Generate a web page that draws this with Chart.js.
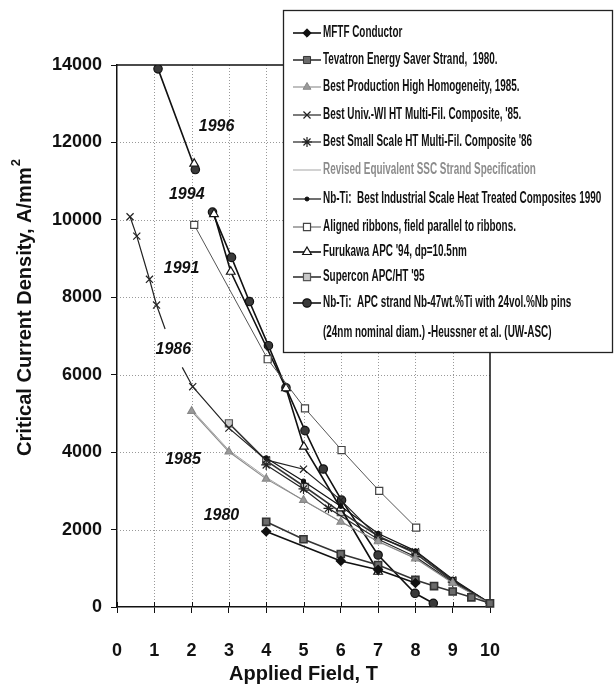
<!DOCTYPE html>
<html><head><meta charset="utf-8">
<script src="https://cdn.jsdelivr.net/npm/chart.js@4.4.1/dist/chart.umd.min.js"></script>
<style>html,body{margin:0;padding:0;background:#fff;}#wrap{width:616px;height:686px;position:relative;}</style>
</head><body><div id="wrap"><canvas id="c" width="616" height="686"></canvas></div>
<script>
// ---------- data ----------
const fieldTicks = [0,1,2,3,4,5,6,7,8,9,10];
const jcTicks = [0,2000,4000,6000,8000,10000,12000,14000];

const mftfField = [4, 6, 7, 8];
const mftfJc    = [1950, 1190, 960, 620];

const tevatronField = [4, 5, 6, 7, 8, 8.5, 9, 9.5, 10, 10.3];
const tevatronJc    = [2200, 1750, 1370, 1085, 700, 540, 400, 250, 95, 55];

const prod85Field = [2, 3, 4, 5, 6, 7, 8, 9, 10];
const prod85Jc    = [5060, 4010, 3310, 2760, 2200, 1690, 1250, 620, 90];

const univ85Field = [1.75, 2.03, 3, 4, 5, 6, 7, 8, 9, 10];
const univ85Jc    = [6190, 5690, 4620, 3800, 3560, 2760, 1800, 1430, 700, 100];

const small86Field = [4, 5, 5.67, 7, 8, 9, 10];
const small86Jc    = [3670, 3050, 2550, 1750, 1300, 640, 100];

const sscField = [2, 3, 4, 5, 6, 7, 8, 9, 10];
const sscJc    = [5100, 4050, 3350, 2750, 2200, 1700, 1260, 640, 100];

const ind90Field = [4, 5, 6, 7, 8, 9, 10];
const ind90Jc    = [3850, 3250, 2600, 1900, 1450, 720, 100];

const ribbonField = [2.07, 4.04, 5.04, 6.02, 7.03, 8.02];
const ribbonJc    = [9870, 6400, 5130, 4055, 3000, 2050];

const furukawaField = [2.07, 2.3, 2.6, 3.05, 4.53, 5.01, 6.0, 7.0];
const furukawaJc    = [11450, null, 10150, 8660, 5650, 4140, 2550, 910];

const superconField = [3, 4, 5.04, 6, 7, 8, 9, 10];
const superconJc    = [4745, 3780, 3100, 2450, 1834, 1385, 670, 100];

const apcField = [1.1, 2.1, 2.35, 2.56, 3.07, 3.55, 4.06, 4.53, 5.04, 5.53, 6.02, 7.0, 7.99, 8.48];
const apcJc    = [13900, 11300, null, 10200, 9030, 7890, 6750, 5665, 4555, 3565, 2760, 1343, 354, 95];

const lowFieldField = [0.35, 0.53, 0.87, 1.06, 1.29];
const lowFieldJc    = [10080, 9580, 8465, 7800, 7180];

const seriesNames = [
  'MFTF Conductor',
  'Tevatron Energy Saver Strand,  1980.',
  'Best Production High Homogeneity, 1985.',
  'Best Univ.-WI HT Multi-Fil. Composite, \'85.',
  'Best Small Scale HT Multi-Fil. Composite \'86',
  'Revised Equivalent SSC Strand Specification',
  'Nb-Ti:  Best Industrial Scale Heat Treated Composites 1990',
  'Aligned ribbons, field parallel to ribbons.',
  'Furukawa APC \'94, dp=10.5nm',
  'Supercon APC/HT \'95',
  'Nb-Ti:  APC strand Nb-47wt.%Ti with 24vol.%Nb pins'
];
const legendExtraLine = '(24nm nominal diam.) -Heussner et al. (UW-ASC)';

const yearLabels = ['1996','1994','1991','1986','1985','1980'];
const yearLabelField = [2.67, 1.87, 1.73, 1.51, 1.77, 2.8];
const yearLabelJc    = [12420, 10650, 8750, 6640, 3800, 2350];

const xTitle = 'Applied Field, T';
const yTitle = 'Critical Current Density, A/mm';

// ---------- build ----------
function pts(xs, ys){ return xs.map((x,i)=>({x:x, y:ys[i]})); }

const FONT = '"Liberation Sans", Arial, Helvetica, sans-serif';

const datasets = [
  {label: seriesNames[0], data: pts(mftfField,mftfJc), borderColor:'#111', borderWidth:1.6,
   pointStyle:'rectRot', pointRadius:4.2, pointBackgroundColor:'#111', pointBorderColor:'#111', legendRow:0},
  {label: seriesNames[1], data: pts(tevatronField,tevatronJc), borderColor:'#333', borderWidth:1.6,
   pointStyle:'rect', pointRadius:5, pointBackgroundColor:'#6b6b6b', pointBorderColor:'#333', clip:false, legendRow:1},
  {label: seriesNames[2], data: pts(prod85Field,prod85Jc), borderColor:'#8a8a8a', borderWidth:1.1,
   pointStyle:'triangle', pointRadius:4.5, pointBackgroundColor:'#9a9a9a', pointBorderColor:'#888', legendRow:2},
  {label: seriesNames[3], data: pts(univ85Field,univ85Jc), borderColor:'#222', borderWidth:1.2,
   pointStyle:'crossRot', pointRadius: univ85Field.map((v,i)=> i===0?0:5), pointBorderWidth:1.2, pointBorderColor:'#222', legendRow:3},
  {label: seriesNames[4], data: pts(small86Field,small86Jc), borderColor:'#222', borderWidth:1.2,
   pointStyle:'star', pointRadius:5, pointBorderWidth:1.2, pointBorderColor:'#222', legendRow:4},
  {label: seriesNames[5], data: pts(sscField,sscJc), borderColor:'#a5a5a5', borderWidth:1,
   pointRadius:0, legendRow:5, textColor:'#8c8c8c'},
  {label: seriesNames[6], data: pts(ind90Field,ind90Jc), borderColor:'#111', borderWidth:1.2,
   pointStyle:'circle', pointRadius:2, pointBackgroundColor:'#111', pointBorderColor:'#111', legendRow:6},
  {label: seriesNames[7], data: pts(ribbonField,ribbonJc), borderColor:'#555', borderWidth:1,
   pointStyle:'rect', pointRadius:5, pointBackgroundColor:'#fff', pointBorderColor:'#444', pointBorderWidth:1.2, legendRow:7},
  {label: seriesNames[8], data: pts(furukawaField,furukawaJc), borderColor:'#111', borderWidth:1.6,
   pointStyle:'triangle', pointRadius:5, pointBackgroundColor:'#fff', pointBorderColor:'#111', pointBorderWidth:1.2, legendRow:8},
  {label: seriesNames[9], data: pts(superconField,superconJc), borderColor:'#333', borderWidth:1.6,
   pointStyle:'rect', pointRadius:5, pointBackgroundColor:'#c8c8c8', pointBorderColor:'#555', pointBorderWidth:1.2, legendRow:9},
  {label: seriesNames[10], data: pts(apcField,apcJc), borderColor:'#111', borderWidth:1.6,
   pointStyle:'circle', pointRadius:4.2, pointBackgroundColor:'#3a3a3a', pointBorderColor:'#111', pointBorderWidth:1.2, legendRow:10},
  {label: '1991 low-field data', data: pts(lowFieldField,lowFieldJc), borderColor:'#222', borderWidth:1.2,
   pointStyle:'crossRot', pointRadius: lowFieldField.map((v,i)=> i===lowFieldField.length-1?0:5), pointBorderWidth:1.2, pointBorderColor:'#222'}
];
datasets.forEach(d=>{ d.fill=false; d.tension=0; d.showLine=true; d.spanGaps=false; });

const frame = {
  id:'frame',
  beforeDatasetsDraw(chart){
    const {ctx, chartArea:a} = chart;
    const xs = chart.scales.x, ys = chart.scales.y;
    ctx.save();
    // dotted grid
    ctx.strokeStyle='#999'; ctx.lineWidth=1; ctx.setLineDash([1,2]);
    fieldTicks.slice(1,-1).forEach(t=>{ const px=Math.round(xs.getPixelForValue(t))+0.5; ctx.beginPath(); ctx.moveTo(px,a.top); ctx.lineTo(px,a.bottom); ctx.stroke(); });
    jcTicks.slice(1,-1).forEach(t=>{ const py=Math.round(ys.getPixelForValue(t))+0.5; ctx.beginPath(); ctx.moveTo(a.left,py); ctx.lineTo(a.right,py); ctx.stroke(); });
    ctx.setLineDash([]);
    ctx.strokeStyle='#111'; ctx.lineWidth=1.5;
    ctx.beginPath(); ctx.moveTo(a.left, a.top); ctx.lineTo(a.right, a.top); ctx.lineTo(a.right, a.bottom); ctx.stroke();
    // inner half of the x tick marks
    ctx.lineWidth=1;
    fieldTicks.forEach(t=>{ const px=Math.round(xs.getPixelForValue(t))+0.5; ctx.beginPath(); ctx.moveTo(px,a.bottom); ctx.lineTo(px,a.bottom-5); ctx.stroke(); });
    ctx.restore();
  },
  afterDatasetsDraw(chart){
    const {ctx} = chart; const xs=chart.scales.x, ys=chart.scales.y;
    ctx.save();
    ctx.fillStyle='#111'; ctx.font='italic bold 16px '+FONT; ctx.textAlign='center'; ctx.textBaseline='middle';
    yearLabels.forEach((t,i)=> ctx.fillText(t, xs.getPixelForValue(yearLabelField[i]), ys.getPixelForValue(yearLabelJc[i])));
    ctx.restore();
  },
  afterDraw(chart){
    const ctx = chart.ctx;
    // y axis title with superscript
    ctx.save();
    ctx.translate(25, 308); ctx.rotate(-Math.PI/2);
    ctx.fillStyle='#111'; ctx.font='bold 20px '+FONT; ctx.textBaseline='middle';
    const w1 = ctx.measureText(yTitle).width;
    ctx.font='bold 13px '+FONT; const w2=ctx.measureText('2').width;
    const start=-(w1+w2)/2;
    ctx.font='bold 20px '+FONT; ctx.textAlign='left'; ctx.fillText(yTitle, start, 0);
    ctx.font='bold 13px '+FONT; ctx.fillText('2', start+w1+1, -9);
    ctx.restore();

    // legend box
    ctx.save();
    const bx=283, by=10, bw=329, bh=342;
    ctx.fillStyle='#fff'; ctx.fillRect(bx,by,bw,bh);
    ctx.strokeStyle='#222'; ctx.lineWidth=1.3; ctx.strokeRect(bx+0.5,by+0.5,bw,bh);
    const rows=[33,60,87,115,142,170,199,227,252,277,303];
    chart.data.datasets.forEach(ds=>{
      if(ds.legendRow===undefined) return;
      const y=rows[ds.legendRow];
      ctx.setLineDash([]);
      ctx.strokeStyle=ds.borderColor; ctx.lineWidth=ds.borderWidth;
      ctx.beginPath(); ctx.moveTo(293,y); ctx.lineTo(321,y); ctx.stroke();
      const r = Array.isArray(ds.pointRadius)? ds.pointRadius[ds.pointRadius.length-1] : ds.pointRadius;
      if(r>0){
        ctx.fillStyle = ds.pointBackgroundColor || '#fff';
        ctx.strokeStyle = ds.pointBorderColor || ds.borderColor;
        ctx.lineWidth = ds.pointBorderWidth || 1;
        Chart.helpers.drawPoint(ctx, {pointStyle:ds.pointStyle, radius:Math.min(r,5), rotation:0, borderWidth:ctx.lineWidth}, 307, y);
      }
      ctx.save();
      ctx.translate(323, y); ctx.scale(0.62,1);
      ctx.font='bold 16px '+FONT; ctx.textBaseline='middle'; ctx.textAlign='left';
      ctx.fillStyle = ds.textColor || '#111';
      ctx.fillText(ds.label, 0, 0);
      ctx.restore();
    });
    ctx.save();
    ctx.translate(323, 333); ctx.scale(0.62,1);
    ctx.font='bold 16px '+FONT; ctx.textBaseline='middle'; ctx.fillStyle='#111';
    ctx.fillText(legendExtraLine, 0, 0);
    ctx.restore();
    ctx.restore();
  }
};

new Chart(document.getElementById('c'), {
  type:'line',
  data:{datasets},
  plugins:[frame],
  options:{
    responsive:false, animation:false, devicePixelRatio:1,
    layout:{padding:{top:65, right:126, left:0, bottom:0}},
    plugins:{legend:{display:false}, tooltip:{enabled:false}},
    elements:{line:{tension:0}},
    scales:{
      x:{type:'linear', min:0, max:10,
        afterFit(s){ s.height=79; },
        afterBuildTicks(s){ s.ticks = fieldTicks.map(v=>({value:v})); },
        ticks:{stepSize:1, color:'#111', font:{family:FONT, size:18, weight:'bold'}, padding:27, maxRotation:0,
               callback:(v)=>String(v)},
        grid:{drawOnChartArea:false, tickLength:6, tickColor:'#111', tickWidth:1},
        border:{display:true, color:'#111', width:1.5},
        title:{display:true, text:xTitle, color:'#111', font:{family:FONT, size:20, weight:'bold'}, padding:{top:0,bottom:0}}
      },
      y:{type:'linear', min:0, max:14000,
        afterFit(s){ s.width=117; },
        afterBuildTicks(s){ s.ticks = jcTicks.map(v=>({value:v})); },
        ticks:{stepSize:2000, color:'#111', font:{family:FONT, size:18, weight:'bold'}, padding:9,
               callback:(v)=>String(v)},
        grid:{drawOnChartArea:false, tickLength:6, tickColor:'#111', tickWidth:1},
        border:{display:true, color:'#111', width:1.5}
      }
    }
  }
});
</script></body></html>
